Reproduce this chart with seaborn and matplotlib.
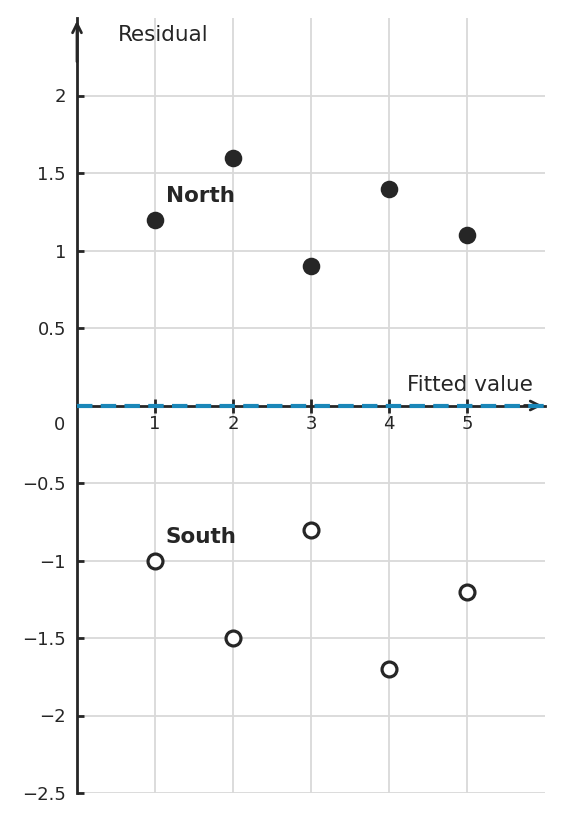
import numpy as np
import pandas as pd
import seaborn as sns
import matplotlib
matplotlib.use("Agg")
import matplotlib.pyplot as plt

fitted = [1, 2, 3, 4, 5]
north_resid = [1.2, 1.6, 0.9, 1.4, 1.1]
south_resid = [-1.0, -1.5, -0.8, -1.7, -1.2]
y_ticks = [-2.5, -2, -1.5, -1, -0.5, 0.5, 1, 1.5, 2]
y_tick_labels = ["\u22122.5", "\u22122", "\u22121.5", "\u22121", "\u22120.5", "0.5", "1", "1.5", "2"]
x_ticks = [1, 2, 3, 4, 5]

sns.set_theme(style="whitegrid")
plt.rcParams['font.family'] = ['DejaVu Sans']
dark = "#262626"

df_n = pd.DataFrame({"x": fitted, "y": north_resid})
df_s = pd.DataFrame({"x": fitted, "y": south_resid})

fig = plt.figure(figsize=(5.61, 8.23), dpi=100)
ax = fig.add_axes([77/561, 30/823, (545-77)/561, (793-18)/823])

ax.set_xlim(0, 6)
ax.set_ylim(-2.5, 2.5)

sns.scatterplot(data=df_n, x="x", y="y", ax=ax, color=dark, s=160, edgecolor=dark, linewidth=0, zorder=5)
sns.scatterplot(data=df_s, x="x", y="y", ax=ax, facecolor="white", edgecolor=dark, s=115, linewidth=2.3, zorder=5)

ax.axhline(0, color="#1a87b9", lw=3, ls=(0, (3.7, 2.0)), zorder=4)

ax.set_xticks(x_ticks)
ax.set_yticks(y_ticks)
ax.set_yticklabels(y_tick_labels)
ax.grid(True, color="#d9d9d9", lw=1.3)
ax.set_xlabel("")
ax.set_ylabel("")

for side in ["top", "right"]:
    ax.spines[side].set_visible(False)
ax.spines["left"].set_position(("data", 0))
ax.spines["bottom"].set_position(("data", 0))
ax.spines["left"].set_color(dark)
ax.spines["bottom"].set_color(dark)
ax.spines["left"].set_linewidth(2)
ax.spines["bottom"].set_linewidth(2)
ax.spines["left"].set_zorder(3)
ax.spines["bottom"].set_zorder(3)

ax.tick_params(axis="x", direction="inout", length=10, width=2, color=dark, labelsize=13, labelcolor=dark, pad=2, bottom=True)
ax.tick_params(axis="y", direction="in", length=5, width=2, color=dark, labelsize=13, labelcolor=dark, pad=8, left=True)

# arrows
ax.annotate("", xy=(6.0, 0), xytext=(5.7, 0), xycoords="data",
            arrowprops=dict(arrowstyle="->", color=dark, lw=2, mutation_scale=16), zorder=3, annotation_clip=False)
ax.annotate("", xy=(0, 2.5), xytext=(0, 2.2), xycoords="data",
            arrowprops=dict(arrowstyle="->", color=dark, lw=2, mutation_scale=16), zorder=3, annotation_clip=False)

ax.text(-0.15, -0.125, "0", ha="right", va="center", fontsize=13, color=dark)
ax.text(0.53, 2.39, "Residual", ha="left", va="center", fontsize=15.5, color=dark)
ax.text(5.85, 0.135, "Fitted value", ha="right", va="center", fontsize=15.5, color=dark)
ax.text(1.14, 1.35, "North", ha="left", va="center", fontsize=15.5, fontweight="bold", color=dark)
ax.text(1.14, -0.85, "South", ha="left", va="center", fontsize=15.5, fontweight="bold", color=dark)

fig.savefig("out.png", dpi=100)
